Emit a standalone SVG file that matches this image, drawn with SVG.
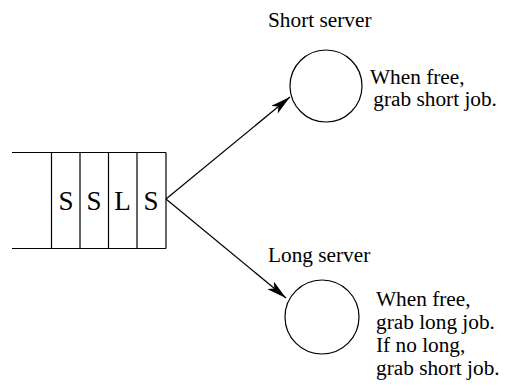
<svg xmlns="http://www.w3.org/2000/svg" width="529" height="392" viewBox="0 0 529 392">
<style>
text{font-family:"Liberation Serif","Times New Roman",serif;fill:#000}
.lbl{font-size:21.3px}
.q{font-size:27px;text-anchor:middle}
.ln{stroke:#000;stroke-width:1.2;fill:none}
</style>
<defs>
<marker id="ah" viewBox="0 0 20 10" refX="20" refY="5" markerWidth="20" markerHeight="10" markerUnits="userSpaceOnUse" orient="auto">
<path d="M0,0 L20,5 L0,10 L5,5 Z" fill="#000"/>
</marker>
</defs>
<rect width="529" height="392" fill="#fff"/>
<g id="queue">
<path class="ln" d="M12,152.5 H166 M12,248.5 H166 M51.5,152.5 V248.5 M80,152.5 V248.5 M108.5,152.5 V248.5 M137,152.5 V248.5 M166,152.5 V248.5"/>
<text class="q" x="66" y="210">S</text>
<text class="q" x="94" y="210">S</text>
<text class="q" x="122.5" y="210">L</text>
<text class="q" x="151" y="210">S</text>
</g>
<g id="short-server">
<circle class="ln" cx="326" cy="86" r="36"/>
<text class="lbl" x="268" y="27">Short server</text>
<text class="lbl" x="370" y="84">When free,</text>
<text class="lbl" x="368" y="106" xml:space="preserve"> grab short job.</text>
</g>
<g id="long-server">
<circle class="ln" cx="322" cy="317" r="37"/>
<text class="lbl" x="268" y="262">Long server</text>
<text class="lbl" x="376" y="306">When free,</text>
<text class="lbl" x="376" y="329">grab long job.</text>
<text class="lbl" x="376" y="352">If no long,</text>
<text class="lbl" x="376" y="375">grab short job.</text>
</g>
<g id="connectors">
<line class="ln" x1="166" y1="199" x2="290" y2="97" marker-end="url(#ah)"/>
<line class="ln" x1="166" y1="199" x2="286" y2="298" marker-end="url(#ah)"/>
</g>
</svg>
